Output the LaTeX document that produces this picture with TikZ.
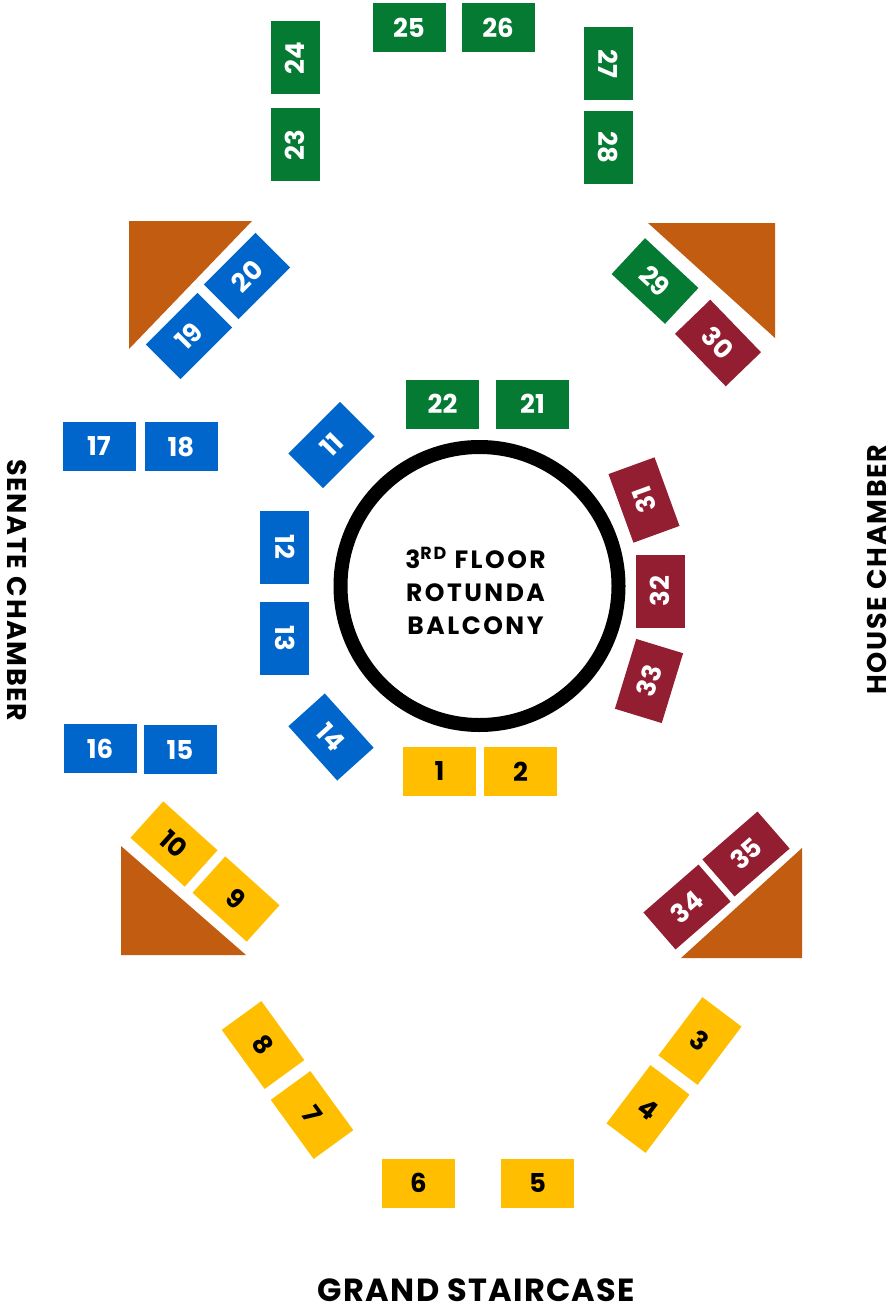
\documentclass[tikz,border=0pt]{standalone}
\usepackage{fontspec}
\setmainfont{Poppins}
\newfontfamily\widefont[LetterSpace=10]{Poppins}
\newfontfamily\sidefont[LetterSpace=6]{Poppins}
\newfontfamily\stairfont[LetterSpace=4]{Poppins}
\usetikzlibrary{positioning}
\definecolor{capBlue}{HTML}{0066CC}
\definecolor{capGreen}{HTML}{047A33}
\definecolor{capGold}{HTML}{FFBF00}
\definecolor{capRed}{HTML}{931E32}
\definecolor{capBrown}{HTML}{C25C11}
\tikzset{
  booth/.style={
    rectangle, fill=#1,
    minimum width=73pt, minimum height=49pt,
    inner sep=0pt, align=center,
    font=\fontsize{26}{26}\selectfont\bfseries
  },
  bluebooth/.style={booth=capBlue, text=white},
  greenbooth/.style={booth=capGreen, text=white},
  redbooth/.style={booth=capRed, text=white},
  goldbooth/.style={booth=capGold, text=black},
  tallbooth/.style={goldbooth, minimum width=49pt, minimum height=73pt},
  wedge/.style={fill=capBrown},
  sidelabel/.style={font=\sidefont\fontsize{27}{27}\selectfont\bfseries, text=black, inner sep=0pt}
}
\begin{document}
\begin{tikzpicture}[x=1pt, y=-1pt]
  \useasboundingbox (0,0) rectangle (893,1308);
  % corner wedges
  \fill[wedge] (129,221) -- (252,221) -- (129,349) -- cycle;
  \fill[wedge] (648,223) -- (775,223) -- (775,338) -- cycle;
  \fill[wedge] (121,846) -- (246,955) -- (121,955) -- cycle;
  \fill[wedge] (802,848) -- (802,958) -- (681,958) -- cycle;
  % rotunda
  \node[circle, draw=black, line width=14pt, minimum size=278pt, inner sep=0pt] (rotunda) at (479.5,586) {};
  \node[font=\widefont\fontsize{25}{33}\selectfont\bfseries, align=center, inner sep=0pt] (rotundatext) at (475.5,591) {3\textsuperscript{RD} FLOOR\\ROTUNDA\\BALCONY};
  % gold
  \node[goldbooth] (b1) at (439.5,771.5) {1};
  \node[goldbooth] (b2) at (520.5,771.5) {2};
  \node[tallbooth, rotate=-37] (b3) at (700,1041) {3};
  \node[tallbooth, rotate=-37] (b4) at (648,1109) {4};
  \node[goldbooth] (b5) at (537.5,1183) {5};
  \node[goldbooth] (b6) at (418.5,1183) {6};
  \node[goldbooth, rotate=-54] (b7) at (312,1115) {7};
  \node[goldbooth, rotate=-54] (b8) at (263,1045) {8};
  \node[goldbooth, rotate=-42] (b9) at (236,899) {9};
  \node[goldbooth, rotate=-42] (b10) at (174,844) {10};
  % blue
  \node[bluebooth, rotate=45] (b11) at (331.5,445) {11};
  \node[bluebooth, rotate=-90] (b12) at (284.7,547) {12};
  \node[bluebooth, rotate=-90] (b13) at (284.7,638.7) {13};
  \node[bluebooth, rotate=-48] (b14) at (331,737) {14};
  \node[bluebooth] (b15) at (180,749.5) {15};
  \node[bluebooth] (b16) at (100,748.5) {16};
  \node[bluebooth] (b17) at (99,446.5) {17};
  \node[bluebooth] (b18) at (181,446.5) {18};
  \node[bluebooth, rotate=45] (b19) at (189,336) {19};
  \node[bluebooth, rotate=45] (b20) at (247,276) {20};
  % green
  \node[greenbooth] (b21) at (532.5,404) {21};
  \node[greenbooth] (b22) at (442.5,404) {22};
  \node[greenbooth, rotate=90] (b23) at (295,145) {23};
  \node[greenbooth, rotate=90] (b24) at (295,58) {24};
  \node[greenbooth] (b25) at (409,28) {25};
  \node[greenbooth] (b26) at (498,28) {26};
  \node[greenbooth, rotate=-90] (b27) at (608,64) {27};
  \node[greenbooth, rotate=-90] (b28) at (608,147.5) {28};
  \node[greenbooth, rotate=-43] (b29) at (655,281) {29};
  % red
  \node[redbooth, rotate=-46] (b30) at (718,343) {30};
  \node[redbooth, rotate=110] (b31) at (644,500) {31};
  \node[redbooth, rotate=90] (b32) at (660,591) {32};
  \node[redbooth, rotate=73] (b33) at (649,681) {33};
  \node[redbooth, rotate=41] (b34) at (687,907) {34};
  \node[redbooth, rotate=41] (b35) at (746,854) {35};
  % sides
  \node[sidelabel, rotate=-90] (senate) at (17,590.5) {SENATE CHAMBER};
  \node[sidelabel, rotate=90] (house) at (877,569.5) {HOUSE CHAMBER};
  \node[sidelabel, font=\stairfont\fontsize{32}{32}\selectfont\bfseries] (stairs) at (476.5,1290) {GRAND STAIRCASE};
\end{tikzpicture}
\end{document}
